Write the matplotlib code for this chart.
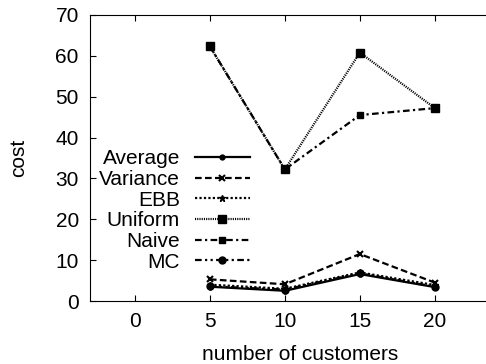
import numpy as np
import matplotlib.pyplot as plt

plt.rcParams['font.family'] = ['Liberation Sans', 'DejaVu Sans']
plt.rcParams['font.size'] = 10

# datos
customers = [5, 10, 15, 20]
average = [3.5, 2.5, 6.6, 3.4]
variance = [5.3, 4.1, 11.5, 4.5]
ebb = [4.0, 3.0, 7.0, 3.9]
uniform = [62.3, 32.2, 60.8, 47.2]
naive = [62.3, 32.2, 45.5, 47.2]
mc = [3.6, 2.8, 6.8, 3.5]

fig = plt.figure(figsize=(4.86, 3.64), dpi=100)
ax = fig.add_axes([0.185, 0.173, 0.864, 0.786])

lw = 1.6
ax.plot(customers, average, color='k', lw=lw, ls='-', marker='o', ms=3.5, label='Average')
ax.plot(customers, variance, color='k', lw=lw, ls=(0, (3, 1.5)), marker='x', ms=4, mew=1.5, label='Variance')
ax.plot(customers, ebb, color='k', lw=lw, ls=(0, (1, 1)), marker='*', ms=5, label='EBB')
ax.plot(customers, uniform, color='k', lw=lw, ls=(0, (0.5, 0.5)), marker='s', ms=6, label='Uniform')
ax.plot(customers, naive, color='k', lw=lw, ls=(0, (3, 1.5, 1, 1.5)), marker='s', ms=4, label='Naive')
ax.plot(customers, mc, color='k', lw=lw, ls=(0, (3, 1.5, 1, 1.5, 1, 1.5)), marker='o', ms=5, label='MC')

ax.set_xlim(-3, 25)
ax.set_ylim(0, 70)
ax.set_xticks([0, 5, 10, 15, 20])
ax.set_yticks(np.arange(0, 71, 10))
ax.spines['right'].set_visible(False)
ax.tick_params(direction='in', top=True, right=False, length=4, labelsize=15, pad=8)
ax.set_xlabel('number of customers', fontsize=15, labelpad=10)
ax.set_ylabel('cost', fontsize=15, labelpad=20)

leg = ax.legend(loc='upper right', bbox_to_anchor=(0.381, 0.53), markerfirst=False,
                frameon=False, fontsize=15, handlelength=2.65, handletextpad=0.7,
                labelspacing=0.08, borderpad=0, borderaxespad=0)

fig.savefig('out.png', dpi=100)
